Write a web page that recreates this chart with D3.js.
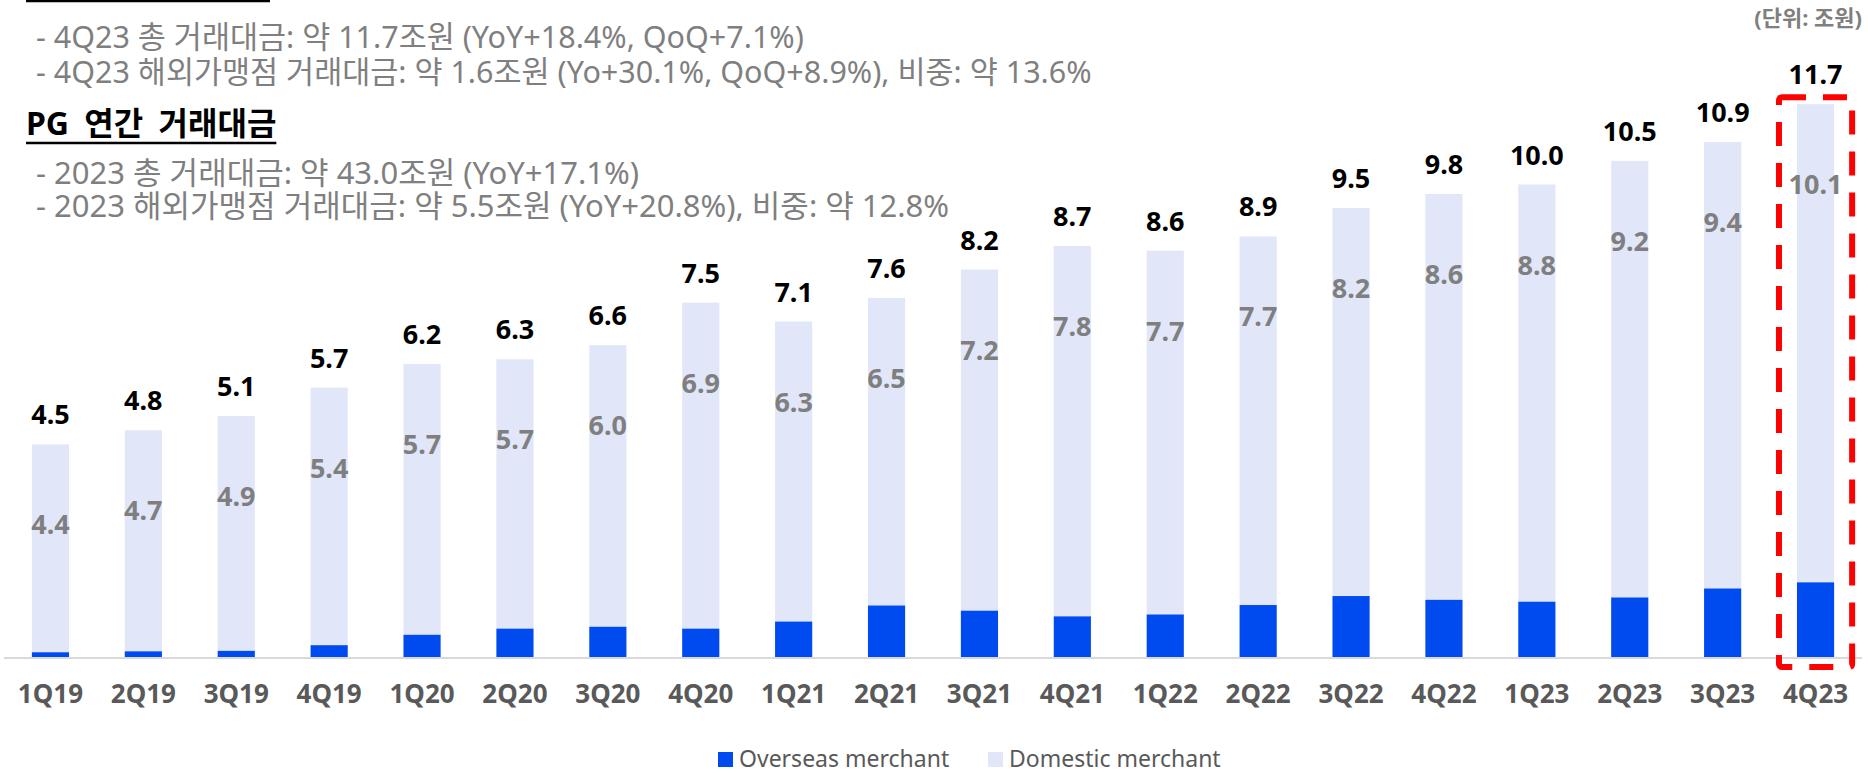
<!DOCTYPE html>
<html>
<head>
<meta charset="utf-8">
<script src="https://cdn.jsdelivr.net/npm/d3@7"></script>
<style>
  body { margin: 0; background: #fff; }
  text { font-family: "Noto Sans", "Noto Sans CJK KR", sans-serif; }
</style>
</head>
<body>
<div id="chart"></div>
<script>
// Quarterly PG transaction volume (unit: trillion won)
const quarters = ["1Q19", "2Q19", "3Q19", "4Q19", "1Q20", "2Q20", "3Q20", "4Q20", "1Q21", "2Q21",
  "3Q21", "4Q21", "1Q22", "2Q22", "3Q22", "4Q22", "1Q23", "2Q23", "3Q23", "4Q23"];
const totals = [4.5, 4.8, 5.1, 5.7, 6.2, 6.3, 6.6, 7.5, 7.1, 7.6,
  8.2, 8.7, 8.6, 8.9, 9.5, 9.8, 10.0, 10.5, 10.9, 11.7];
const domestic = [4.4, 4.7, 4.9, 5.4, 5.7, 5.7, 6.0, 6.9, 6.3, 6.5,
  7.2, 7.8, 7.7, 7.7, 8.2, 8.6, 8.8, 9.2, 9.4, 10.1];
// overseas part
const overseas = [0.1, 0.12, 0.13, 0.25, 0.47, 0.6, 0.64, 0.6, 0.75, 1.09,
  0.98, 0.86, 0.9, 1.1, 1.29, 1.21, 1.17, 1.26, 1.45, 1.58];
const highlight = "4Q23";

const notes = [
  "- 4Q23 총 거래대금: 약 11.7조원 (YoY+18.4%, QoQ+7.1%)",
  "- 4Q23 해외가맹점 거래대금: 약 1.6조원 (Yo+30.1%, QoQ+8.9%), 비중: 약 13.6%"
];
const annualTitle = "PG 연간 거래대금";
const annualNotes = [
  "- 2023 총 거래대금: 약 43.0조원 (YoY+17.1%)",
  "- 2023 해외가맹점 거래대금: 약 5.5조원 (YoY+20.8%), 비중: 약 12.8%"
];
const unitText = "(단위: 조원)";
const legendItems = [
  { name: "Overseas merchant", color: "#004BEF" },
  { name: "Domestic merchant", color: "#E1E6F9" }
];

const W = 1868, H = 773;
const baseY = 657;

const data = quarters.map((q, i) => ({
  q: q, total: totals[i], dom: domestic[i], ovs: overseas[i]
}));

const svg = d3.select("#chart")
  .append("svg")
  .attr("width", W)
  .attr("height", H);

// scales
const x = d3.scaleBand()
  .domain(quarters)
  .range([4, 1862])
  .paddingInner(0.6)
  .paddingOuter(0.3);

const y = d3.scaleLinear()
  .domain([0, 12])
  .range([baseY, baseY - 12 * 47.25]);

// header notes
const grey = "#7f7f7f";
svg.append("line")
  .attr("x1", 26).attr("x2", 270)
  .attr("y1", 1).attr("y2", 1)
  .attr("stroke", "#000").attr("stroke-width", 2.5);

svg.selectAll(".note")
  .data(notes)
  .enter()
  .append("text")
  .attr("class", "note")
  .attr("x", 36)
  .attr("y", (d, i) => 48 + i * 35)
  .attr("fill", grey)
  .style("font-size", "30.5px")
  .text((d) => d);

const title = svg.append("text")
  .attr("x", 26)
  .attr("y", 135)
  .attr("fill", "#000")
  .style("font-size", "32px")
  .style("font-weight", "bold")
  .style("word-spacing", "7px")
  .text(annualTitle);

const tw = title.node().getComputedTextLength();
svg.append("line")
  .attr("x1", 26).attr("x2", 26 + tw)
  .attr("y1", 143).attr("y2", 143)
  .attr("stroke", "#000").attr("stroke-width", 2.5);

svg.selectAll(".anote")
  .data(annualNotes)
  .enter()
  .append("text")
  .attr("class", "anote")
  .attr("x", 36)
  .attr("y", (d, i) => 184 + i * 33)
  .attr("fill", grey)
  .style("font-size", "31px")
  .text((d) => d);

svg.append("text")
  .attr("x", 1862)
  .attr("y", 26)
  .attr("text-anchor", "end")
  .attr("fill", grey)
  .style("font-size", "22px")
  .style("font-weight", "bold")
  .text(unitText);

// bars: domestic on top of overseas
const bars = svg.selectAll(".bar")
  .data(data)
  .enter()
  .append("g")
  .attr("class", "bar");

bars.append("rect")
  .attr("x", (d) => x(d.q))
  .attr("width", x.bandwidth())
  .attr("y", (d) => y(d.total))
  .attr("height", (d) => y(d.ovs) - y(d.total))
  .attr("fill", legendItems[1].color);

bars.append("rect")
  .attr("x", (d) => x(d.q))
  .attr("width", x.bandwidth())
  .attr("y", (d) => y(d.ovs))
  .attr("height", (d) => y(0) - y(d.ovs))
  .attr("fill", legendItems[0].color);

// baseline
svg.append("line")
  .attr("x1", 4).attr("x2", 1862)
  .attr("y1", baseY + 1).attr("y2", baseY + 1)
  .attr("stroke", "#d9d9d9").attr("stroke-width", 2);

// total labels
bars.append("text")
  .attr("x", (d) => x(d.q) + x.bandwidth() / 2)
  .attr("y", (d) => y(d.total) - 20)
  .attr("text-anchor", "middle")
  .attr("fill", "#000")
  .style("font-size", "27px")
  .style("font-weight", "bold")
  .text((d) => d3.format(".1f")(d.total));

// domestic labels
bars.append("text")
  .attr("x", (d) => x(d.q) + x.bandwidth() / 2)
  .attr("y", (d) => y(d.total) + 90)
  .attr("text-anchor", "middle")
  .attr("fill", grey)
  .style("font-size", "27px")
  .style("font-weight", "bold")
  .text((d) => d3.format(".1f")(d.dom));

// x axis labels
const xAxis = svg.append("g")
  .attr("transform", "translate(0," + baseY + ")")
  .call(d3.axisBottom(x).tickSize(0).tickPadding(0));
xAxis.select(".domain").remove();
xAxis.selectAll("text")
  .attr("dy", null)
  .attr("y", 46)
  .attr("fill", "#595959")
  .style("font-size", "26px")
  .style("font-weight", "bold")
  .style("font-family", "\"Noto Sans\", sans-serif");

// red dashed box on last quarter
const hx = x(highlight);
const boxTop = y(totals[totals.length - 1]) - 7;
svg.append("rect")
  .attr("x", hx - 18)
  .attr("y", boxTop)
  .attr("width", x.bandwidth() + 36)
  .attr("height", baseY + 10 - boxTop)
  .attr("rx", 3)
  .attr("fill", "none")
  .attr("stroke", "#ff0000")
  .attr("stroke-width", 6)
  .attr("stroke-dasharray", "24 17");

// legend
const legend = svg.selectAll(".legend")
  .data(legendItems)
  .enter()
  .append("g")
  .attr("class", "legend")
  .attr("transform", (d, i) => "translate(" + [718, 988][i] + ",752)");

legend.append("rect")
  .attr("width", 15).attr("height", 15)
  .attr("fill", (d) => d.color);

legend.append("text")
  .attr("x", 21)
  .attr("y", 15)
  .attr("fill", "#595959")
  .style("font-size", "23px")
  .text((d) => d.name);
</script>
</body>
</html>
